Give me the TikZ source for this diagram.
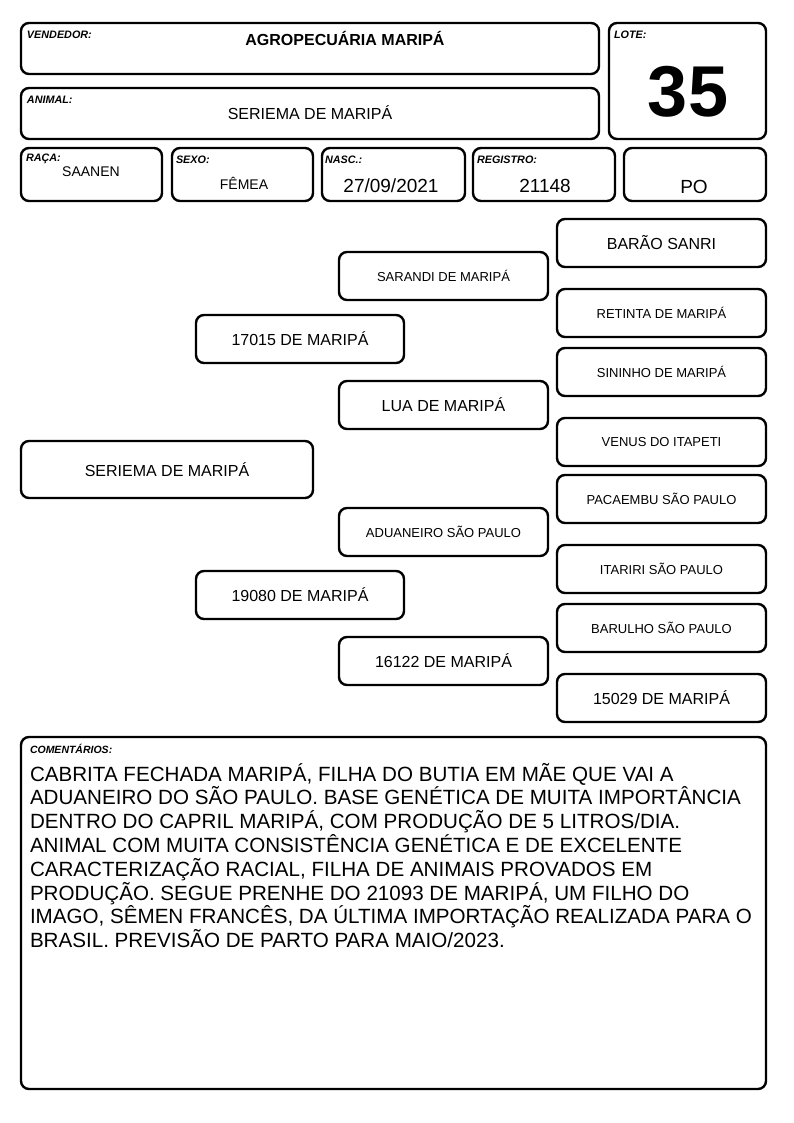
\documentclass[tikz,border=0pt]{standalone}
\usepackage{fontspec}
\setmainfont{Liberation Sans}
\usepackage{tikz}
\usetikzlibrary{calc, positioning}

\begin{document}
\begin{tikzpicture}[x=1pt, y=-1pt,
    box/.style={draw, line width=2.4pt, rounded corners=8pt, inner sep=0pt},
    tag/.style={font=\bfseries\itshape\fontsize{10.8}{10.8}\selectfont, inner sep=0pt, anchor=north west},
    big/.style={font=\fontsize{16}{16}\selectfont},
    small/.style={font=\fontsize{13}{13}\selectfont}]
  \useasboundingbox (0,0) rectangle (794,1123);
  % header
  \node (vendedor) at (310,48.5) [box, minimum width=578, minimum height=51] {};
  \node (lote) at (687.5,81) [box, minimum width=157, minimum height=116] {};
  \node (animal) at (310,113.5) [box, minimum width=578, minimum height=51] {};
  \node (raca) at (91.5,174.5) [box, minimum width=141, minimum height=53] {};
  \node (sexo) at (242.5,174.5) [box, minimum width=141, minimum height=53] {};
  \node (nasc) at (393.5,174.5) [box, minimum width=143, minimum height=53] {};
  \node (registro) at (544,174.5) [box, minimum width=142, minimum height=53] {};
  \node (po) at (695,174.5) [box, minimum width=142, minimum height=53] {};
  \node at ($(vendedor.north west)+(7,9)$) [tag] {VENDEDOR:};
  \node at ($(lote.north west)+(6,9)$) [tag] {LOTE:};
  \node at ($(animal.north west)+(7,9)$) [tag] {ANIMAL:};
  \node at ($(raca.north west)+(6,7)$) [tag] {RAÇA:};
  \node at ($(sexo.north west)+(5,9)$) [tag] {SEXO:};
  \node at ($(nasc.north west)+(4,9)$) [tag] {NASC.:};
  \node at ($(registro.north west)+(5,9)$) [tag] {REGISTRO:};
  \node (vendedortxt) at (345,38) [font=\bfseries\fontsize{16}{16}\selectfont] {AGROPECUÁRIA MARIPÁ};
  \node (lotetxt) at (688,92) [font=\bfseries\fontsize{72}{72}\selectfont] {35};
  \node (animaltxt) at (310,113) [big] {SERIEMA DE MARIPÁ};
  \node (racatxt) at (91,172) [font=\fontsize{14}{14}\selectfont] {SAANEN};
  \node (sexotxt) at (244,183) [font=\fontsize{14}{14}\selectfont] {FÊMEA};
  \node (nasctxt) at (391,186) [font=\fontsize{19}{19}\selectfont] {27/09/2021};
  \node (registrotxt) at (545,186) [font=\fontsize{19}{19}\selectfont] {21148};
  \node (potxt) at (694,187) [font=\fontsize{19}{19}\selectfont] {PO};
  % pedigree
  \node (seriema) at (167,469.5) [box, big, minimum width=292, minimum height=57] {SERIEMA DE MARIPÁ};
  \node (pai) at (300,339) [box, big, minimum width=208, minimum height=48] {17015 DE MARIPÁ};
  \node (mae) at (300,595) [box, big, minimum width=208, minimum height=48] {19080 DE MARIPÁ};
  \node (avo1) at (443.5,276) [box, small, minimum width=209, minimum height=48] {SARANDI DE MARIPÁ};
  \node (avo2) at (443.5,405) [box, big, minimum width=209, minimum height=48] {LUA DE MARIPÁ};
  \node (avo3) at (443.5,532) [box, small, minimum width=209, minimum height=48] {ADUANEIRO SÃO PAULO};
  \node (avo4) at (443.5,661) [box, big, minimum width=209, minimum height=48] {16122 DE MARIPÁ};
  \node (bis1) at (661.5,243) [box, big, minimum width=209, minimum height=48] {BARÃO SANRI};
  \node (bis2) at (661.5,313) [box, small, minimum width=209, minimum height=48] {RETINTA DE MARIPÁ};
  \node (bis3) at (661.5,372) [box, small, minimum width=209, minimum height=48] {SININHO DE MARIPÁ};
  \node (bis4) at (661.5,442) [box, small, minimum width=209, minimum height=48] {VENUS DO ITAPETI};
  \node (bis5) at (661.5,499) [box, small, minimum width=209, minimum height=48] {PACAEMBU SÃO PAULO};
  \node (bis6) at (661.5,569) [box, small, minimum width=209, minimum height=48] {ITARIRI SÃO PAULO};
  \node (bis7) at (661.5,628) [box, small, minimum width=209, minimum height=48] {BARULHO SÃO PAULO};
  \node (bis8) at (661.5,698) [box, big, minimum width=209, minimum height=48] {15029 DE MARIPÁ};
  % comments
  \node (comentarios) at (393.5,913) [box, minimum width=745, minimum height=352] {};
  \node at ($(comentarios.north west)+(10,8)$) [tag, font=\bfseries\itshape\fontsize{10.5}{10.5}\selectfont] {COMENTÁRIOS:};
  \node (comentariostxt) at ($(comentarios.north west)+(10,27)$) [anchor=north west, inner sep=0pt, align=left,
    font=\fontsize{20.6}{23.8}\selectfont] {CABRITA FECHADA MARIPÁ, FILHA DO BUTIA EM MÃE QUE VAI A\\
    ADUANEIRO DO SÃO PAULO. BASE GENÉTICA DE MUITA IMPORTÂNCIA\\
    DENTRO DO CAPRIL MARIPÁ, COM PRODUÇÃO DE 5 LITROS/DIA.\\
    ANIMAL COM MUITA CONSISTÊNCIA GENÉTICA E DE EXCELENTE\\
    CARACTERIZAÇÃO RACIAL, FILHA DE ANIMAIS PROVADOS EM\\
    PRODUÇÃO. SEGUE PRENHE DO 21093 DE MARIPÁ, UM FILHO DO\\
    IMAGO, SÊMEN FRANCÊS, DA ÚLTIMA IMPORTAÇÃO REALIZADA PARA O\\
    BRASIL. PREVISÃO DE PARTO PARA MAIO/2023.};
\end{tikzpicture}
\end{document}
